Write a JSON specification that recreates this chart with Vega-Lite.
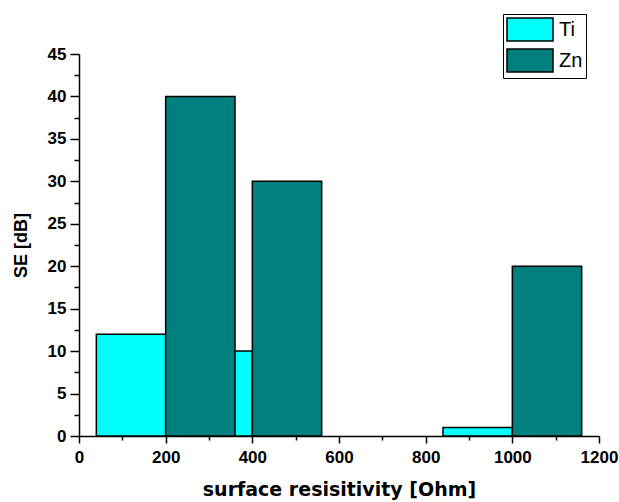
{
  "$schema": "https://vega.github.io/schema/vega-lite/v6.json",
  "width": 520,
  "height": 382,
  "autosize": "none",
  "padding": {"left": 79, "top": 54, "right": 20, "bottom": 66},
  "background": "white",
  "config": {
    "view": {"stroke": null},
    "axis": {
      "domainColor": "black",
      "domainWidth": 1.5,
      "tickColor": "black",
      "tickWidth": 1.5,
      "grid": false,
      "labelFont": "Liberation Sans",
      "labelFontWeight": "bold",
      "labelFontSize": 17,
      "labelColor": "black",
      "labelOverlap": false,
      "labelFlush": false,
      "titleColor": "black",
      "titleFontWeight": "bold"
    }
  },
  "data": {
    "values": [
      {"metal": "Ti", "start": 40, "end": 200, "se": 12},
      {"metal": "Ti", "start": 240, "end": 400, "se": 10},
      {"metal": "Ti", "start": 840, "end": 1000, "se": 1},
      {"metal": "Zn", "start": 200, "end": 360, "se": 40},
      {"metal": "Zn", "start": 400, "end": 560, "se": 30},
      {"metal": "Zn", "start": 1000, "end": 1160, "se": 20}
    ]
  },
  "mark": {"type": "bar", "stroke": "black", "strokeWidth": 1.5, "opacity": 1},
  "encoding": {
    "x": {
      "field": "start",
      "type": "quantitative",
      "scale": {"domain": [0, 1200], "nice": false},
      "axis": {
        "title": "surface resisitivity [Ohm]",
        "titleFont": "DejaVu Sans",
        "titleFontSize": 19,
        "titlePadding": 15,
        "values": [0, 100, 200, 300, 400, 500, 600, 700, 800, 900, 1000, 1100, 1200],
        "labelExpr": "datum.value % 200 === 0 ? datum.label : ''",
        "format": "d",
        "tickSize": {"condition": {"test": "datum.value % 200 === 0", "value": 7}, "value": 4},
        "labelPadding": 6
      }
    },
    "x2": {"field": "end"},
    "y": {
      "field": "se",
      "type": "quantitative",
      "scale": {"domain": [0, 45], "nice": false},
      "axis": {
        "title": "SE [dB]",
        "titleFont": "Liberation Sans",
        "titleFontSize": 18,
        "titlePadding": 17,
        "values": [0, 2.5, 5, 7.5, 10, 12.5, 15, 17.5, 20, 22.5, 25, 27.5, 30, 32.5, 35, 37.5, 40, 42.5, 45],
        "labelExpr": "datum.value % 5 === 0 ? datum.label : ''",
        "tickSize": {"condition": {"test": "datum.value % 5 === 0", "value": 9}, "value": 5},
        "labelPadding": 4
      }
    },
    "y2": {"datum": 0},
    "color": {
      "field": "metal",
      "type": "nominal",
      "scale": {"domain": ["Ti", "Zn"], "range": ["#00FFFF", "#007F7F"]},
      "legend": {
        "title": null,
        "orient": "none",
        "legendX": 424,
        "legendY": -40,
        "padding": 3,
        "strokeColor": "black",
        "symbolType": "M-1,-1H3V1H-1Z",
        "symbolSize": 529,
        "symbolStrokeColor": "black",
        "symbolStrokeWidth": 1.5,
        "symbolOpacity": 1,
        "labelFont": "Liberation Sans",
        "labelFontSize": 20,
        "labelColor": "black",
        "labelOffset": 28,
        "rowPadding": 2
      }
    }
  }
}
